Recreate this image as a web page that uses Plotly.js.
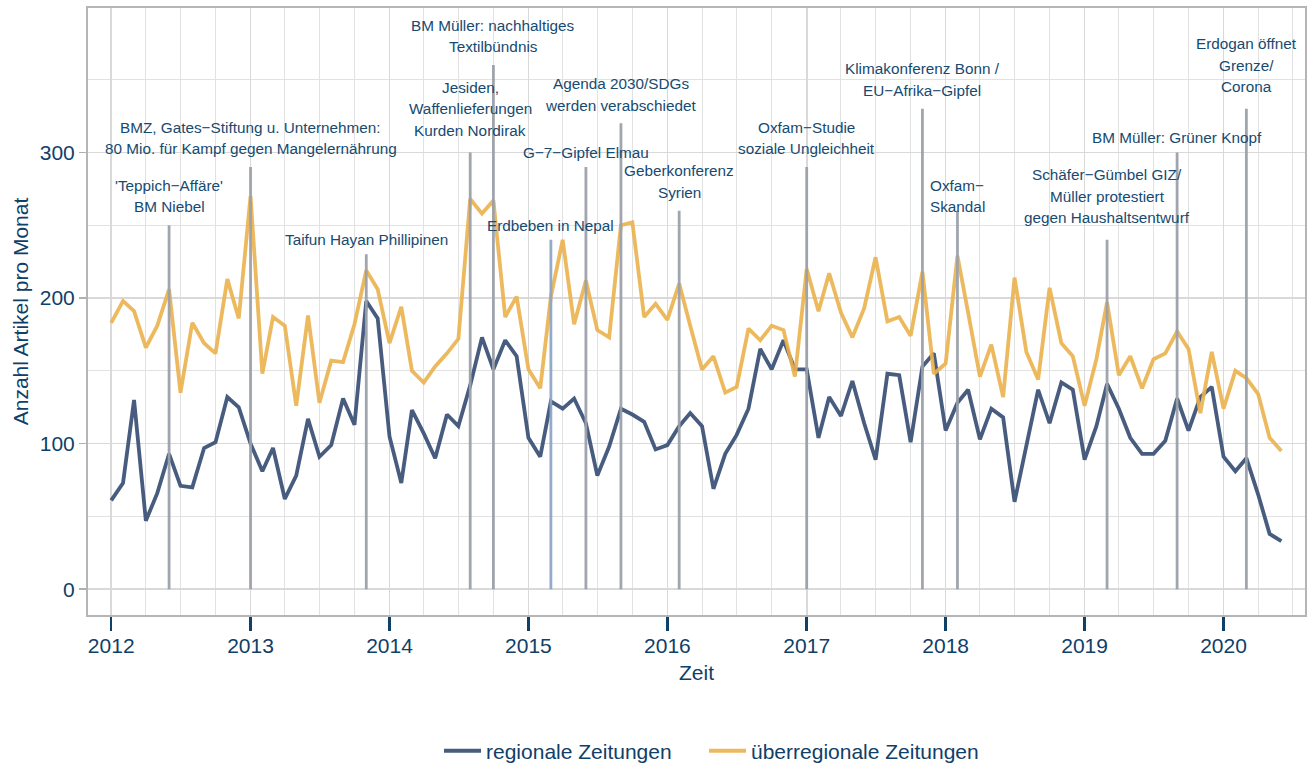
<!DOCTYPE html>
<html>
<head>
<meta charset="utf-8">
<script src="https://cdn.plot.ly/plotly-3.0.1.min.js"></script>
<style>html,body{margin:0;padding:0;background:#fff;}#chart{width:1313px;height:766px;}</style>
</head>
<body>
<div id="chart"></div>
<script>
// ---- data ----
const startYear = 2012;
const nMonths = 102; // Jan 2012 .. Jun 2020

const regionale = [61,73,130,47,66,93,71,70,97,101,132,125,
  100,81,97,62,78,117,91,99,131,113,198,186,
  105,73,123,107,90,120,112,140,173,151,171,160,
  104,91,129,124,131,114,78,98,124,120,115,96,
  99,112,121,112,69,93,106,124,165,151,171,151,
  151,104,132,119,143,114,89,148,147,101,153,162,
  109,128,137,103,124,118,60,98,137,114,142,137,
  89,112,141,124,104,93,93,102,131,109,132,139,
  91,81,90,65,38,33];

const ueberregionale = [183,198,191,166,181,206,135,183,169,162,213,186,
  270,148,187,181,126,188,128,157,156,182,219,206,
  169,194,150,142,153,162,172,268,258,267,187,201,
  151,138,201,240,182,212,178,173,250,252,187,196,
  185,210,181,151,160,135,139,179,171,181,178,146,
  220,191,217,190,173,193,228,184,187,174,218,148,
  155,229,190,146,168,132,214,163,144,207,169,160,
  126,158,197,147,160,138,158,162,177,165,121,163,
  124,150,145,134,104,95];

const seriesNames = ['regionale Zeitungen', 'überregionale Zeitungen'];

const eventDates = ['2012-06-01','2013-01-01','2013-11-01','2014-08-01','2014-10-01',
  '2015-03-01','2015-06-01','2015-09-01','2016-02-01','2017-01-01','2017-11-01',
  '2018-02-01','2019-03-01','2019-09-01','2020-03-01'];
const eventHeights = [250,290,230,300,360,240,290,320,260,290,330,260,240,300,330];
const eventLabelY  = [270,310,240,330,380,250,300,340,280,310,350,270,270,310,360];
const eventLabels = [
  "'Teppich\u2212Affäre'\nBM Niebel",
  "BMZ, Gates\u2212Stiftung u. Unternehmen:\n80 Mio. für Kampf gegen Mangelernährung",
  "Taifun Hayan Phillipinen",
  "Jesiden,\nWaffenlieferungen\nKurden Nordirak",
  "BM Müller: nachhaltiges\nTextilbündnis",
  "Erdbeben in Nepal",
  "G\u22127\u2212Gipfel Elmau",
  "Agenda 2030/SDGs\nwerden verabschiedet",
  "Geberkonferenz\nSyrien",
  "Oxfam\u2212Studie\nsoziale Ungleichheit",
  "Klimakonferenz Bonn /\nEU\u2212Afrika\u2212Gipfel",
  "Oxfam\u2212\nSkandal",
  "Schäfer\u2212Gümbel GIZ/\nMüller protestiert\ngegen Haushaltsentwurf",
  "BM Müller: Grüner Knopf",
  "Erdogan öffnet\nGrenze/\nCorona"
];

// ---- build ----
const dates = [];
for (let i = 0; i < nMonths; i++) {
  const y = startYear + Math.floor(i / 12);
  const m = (i % 12) + 1;
  dates.push(y + '-' + String(m).padStart(2, '0') + '-01');
}

const textColor = '#0f4068';
const annColor = '#174a70';
const fontFamily = '"Liberation Sans", Arial, sans-serif';

const traces = [
  {x: dates, y: regionale, name: seriesNames[0], type: 'scatter', mode: 'lines',
   line: {color: '#3d5377', width: 3.8}, opacity: 0.95, legend: 'legend'},
  {x: dates, y: ueberregionale, name: seriesNames[1], type: 'scatter', mode: 'lines',
   line: {color: '#ebb14c', width: 3.8}, opacity: 0.9, legend: 'legend2'}
];

const shapes = eventDates.map((d, i) => ({
  type: 'line', xref: 'x', yref: 'y', x0: d, x1: d, y0: 0, y1: eventHeights[i],
  layer: 'above',
  line: {color: eventLabels[i] === 'Erdbeben in Nepal' ? '#8ea6c6' : '#9ca1aa', width: 2.8},
  opacity: 0.95
}));

const lineGap = 21.7;
const annotations = [];
eventLabels.forEach((lab, i) => {
  const parts = lab.split('\n');
  const n = parts.length;
  parts.forEach((p, k) => {
    annotations.push({
      x: eventDates[i], y: eventLabelY[i], xref: 'x', yref: 'y',
      text: p, showarrow: false, xanchor: 'center', yanchor: 'middle',
      yshift: -((k - (n - 1) / 2) * lineGap),
      font: {family: fontFamily, size: 15.3, color: annColor}
    });
  });
});

const legendBase = {
  orientation: 'h', xanchor: 'left', y: -0.2242, yanchor: 'middle',
  itemwidth: 37, font: {size: 21, color: textColor}, bgcolor: 'rgba(0,0,0,0)', borderwidth: 0
};

const layout = {
  width: 1313, height: 766,
  margin: {l: 88, r: 8, t: 8, b: 151, autoexpand: false},
  paper_bgcolor: '#ffffff', plot_bgcolor: '#ffffff',
  font: {family: fontFamily, color: textColor},
  showlegend: true,
  xaxis: {
    type: 'date', range: ['2011-11-01', '2020-08-02'], automargin: false,
    tick0: '2012-01-01', dtick: 'M12', tickformat: '%Y',
    ticks: 'outside', ticklen: 14, tickwidth: 2.5, tickcolor: '#0f4068',
    ticklabelstandoff: -3,
    tickfont: {size: 21, color: textColor},
    showgrid: true, gridcolor: '#d9d9d9', gridwidth: 1.6,
    minor: {dtick: 'M3', showgrid: true, gridcolor: '#e2e2e2', gridwidth: 1},
    showline: true, mirror: true, linecolor: '#b5b5b5', linewidth: 2,
    zeroline: false,
    title: {text: 'Zeit', font: {size: 21, color: textColor}, standoff: 9}
  },
  yaxis: {
    range: [-17.7, 399.2], tick0: 0, dtick: 100, automargin: false,
    ticks: 'outside', ticklen: 7, tickwidth: 1.5, tickcolor: '#b0b0b0',
    tickfont: {size: 21, color: textColor},
    showgrid: true, gridcolor: '#d9d9d9', gridwidth: 1.6,
    minor: {dtick: 50, showgrid: true, gridcolor: '#e2e2e2', gridwidth: 1},
    showline: true, mirror: true, linecolor: '#b5b5b5', linewidth: 2,
    zeroline: false,
    title: {text: 'Anzahl Artikel pro Monat', font: {size: 21, color: textColor}, standoff: 5}
  },
  legend: Object.assign({}, legendBase, {x: (439 - 88) / 1217}),
  legend2: Object.assign({}, legendBase, {x: (704 - 88) / 1217}),
  shapes: shapes,
  annotations: annotations
};

Plotly.newPlot('chart', traces, layout, {displayModeBar: false, staticPlot: true});
</script>
</body>
</html>
